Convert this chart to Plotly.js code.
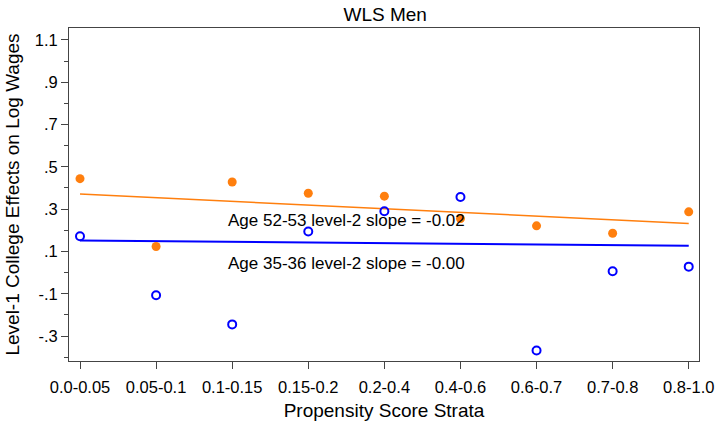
<!DOCTYPE html>
<html>
<head>
<meta charset="utf-8">
<script src="https://cdn.plot.ly/plotly-3.0.1.min.js"></script>
<style>html,body{margin:0;padding:0;background:#fff;}#chart{width:720px;height:422px;}</style>
</head>
<body>
<div id="chart"></div>
<script>
// Data
const strata = ["0.0-0.05","0.05-0.1","0.1-0.15","0.15-0.2","0.2-0.4","0.4-0.6","0.6-0.7","0.7-0.8","0.8-1.0"];
const age5253 = [0.444, 0.123, 0.428, 0.375, 0.361, 0.255, 0.221, 0.186, 0.287];
const age3536 = [0.172, -0.107, -0.245, 0.194, 0.290, 0.357, -0.368, 0.006, 0.028];
const fitStrata = ["0.0-0.05", "0.8-1.0"];
const fit5253 = [0.371, 0.232];
const fit3536 = [0.152, 0.127];
const yTickVals = [-0.3, -0.1, 0.1, 0.3, 0.5, 0.7, 0.9, 1.1];
const yTickText = ["-.3", "-.1", ".1", ".3", ".5", ".7", ".9", "1.1"];
const note5253 = "Age 52-53 level-2 slope = -0.02";
const note3536 = "Age 35-36 level-2 slope = -0.00";

const orange = "#FF7F0E";
const blue = "#0000FF";
const font = "Liberation Sans, Arial, sans-serif";

const traces = [
  {x: fitStrata, y: fit5253, mode: "lines", line: {color: orange, width: 1.5}, hoverinfo: "skip"},
  {x: fitStrata, y: fit3536, mode: "lines", line: {color: blue, width: 2}, hoverinfo: "skip"},
  {x: strata, y: age5253, mode: "markers", marker: {color: orange, size: 9, symbol: "circle"}},
  {x: strata, y: age3536, mode: "markers", marker: {color: blue, size: 8, symbol: "circle-open", line: {color: blue, width: 2}}}
];

const layout = {
  width: 720, height: 422,
  margin: {l: 69, r: 21, t: 28, b: 61},
  paper_bgcolor: "#fff", plot_bgcolor: "#fff",
  showlegend: false,
  font: {family: font, color: "#000", size: 16.5},
  title: {text: "WLS Men", font: {family: font, size: 19, color: "#000"}, x: 0.535, xanchor: "center", y: 0.965, yanchor: "middle"},
  xaxis: {
    type: "category", categoryorder: "array", categoryarray: strata,
    range: [-0.1446, 8.135],
    showline: true, mirror: true, linecolor: "#444", linewidth: 1,
    ticks: "outside", ticklen: 7, tickcolor: "#444", showgrid: false, zeroline: false,
    ticklabelstandoff: 4,
    tickfont: {family: font, size: 16.5, color: "#000"},
    title: {text: "Propensity Score Strata", font: {family: font, size: 19, color: "#000"}, standoff: 8}
  },
  yaxis: {
    range: [-0.418, 1.156],
    tickmode: "array", tickvals: yTickVals, ticktext: yTickText,
    showline: true, mirror: true, linecolor: "#444", linewidth: 1,
    ticks: "outside", ticklen: 7, tickcolor: "#444", showgrid: false, zeroline: false,
    minor: {dtick: 0.1, tick0: 0, ticks: "outside", ticklen: 4, tickcolor: "#444", showgrid: false},
    tickfont: {family: font, size: 16.5, color: "#000"},
    title: {text: "Level-1 College Effects on Log Wages", font: {family: font, size: 19, color: "#000"}, standoff: 10}
  },
  annotations: [
    {x: 1.915, y: 0.246, xref: "x", yref: "y", text: note5253, showarrow: false, xanchor: "left", yanchor: "middle", font: {family: font, size: 17, color: "#000"}},
    {x: 1.915, y: 0.045, xref: "x", yref: "y", text: note3536, showarrow: false, xanchor: "left", yanchor: "middle", font: {family: font, size: 17, color: "#000"}}
  ]
};

Plotly.newPlot("chart", traces, layout, {staticPlot: true, displayModeBar: false});
</script>
</body>
</html>
